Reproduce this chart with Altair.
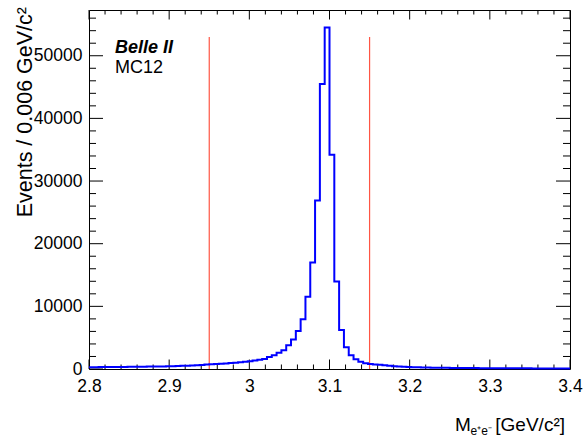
import altair as alt
import pandas as pd

# ---- data ----
x_min = 2.8
x_max = 3.4
bin_width = 0.006
counts = [
    290, 295, 300, 305, 310, 318, 325, 332, 340, 350,
    360, 370, 380, 390, 400, 412, 425, 445, 470, 500,
    535, 570, 610, 650, 700, 750, 790, 840, 890, 950,
    1010, 1080, 1160, 1250, 1350, 1460, 1590, 1900, 2200, 2580,
    3000, 3780, 4720, 6050, 7940, 11550, 16980, 26900, 45500, 54500,
    34200, 13950, 6230, 3470, 2180, 1550, 1170, 900, 800, 730,
    680, 600, 520, 450, 390, 340, 300, 280, 260, 245,
    230, 215, 200, 190, 180, 170, 160, 155, 150, 145,
    140, 135, 130, 125, 120, 115, 112, 110, 107, 105,
    102, 100, 98, 96, 94, 92, 90, 88, 86, 85,
]
cut_positions = [2.95, 3.15]
cut_top = [53000, 53000]
y_max = 57300

x_major = [2.8, 2.9, 3.0, 3.1, 3.2, 3.3, 3.4]
x_minor = [round(2.8 + 0.02 * i, 2) for i in range(31) if i % 5 != 0]
y_major = [0, 10000, 20000, 30000, 40000, 50000]
y_minor = [2000 * i for i in range(29) if i % 5 != 0]

W, H = 481, 359
FONT = "Liberation Sans"

edges = [round(x_min + bin_width * i, 4) for i in range(len(counts))]
hist = pd.DataFrame({"x": edges + [x_max], "n": counts + [counts[-1]]})

xs = alt.Scale(domain=[x_min, x_max], nice=False, zero=False)
ys = alt.Scale(domain=[0, y_max], nice=False)

hist_line = alt.Chart(hist).mark_line(
    interpolate="step-after", color="#0000ff", strokeWidth=2
).encode(
    x=alt.X("x:Q", scale=xs, axis=alt.Axis(
        values=x_major, format="~g", ticks=False, tickSize=0, domain=False,
        grid=False, labelFont=FONT, labelFontSize=17.5, labelColor="black",
        labelPadding=8, title=None, labelFlush=False)),
    y=alt.Y("n:Q", scale=ys, axis=alt.Axis(
        values=y_major, format="d", ticks=False, tickSize=0, domain=False,
        grid=False, labelFont=FONT, labelFontSize=17.5, labelColor="black",
        labelPadding=7, title=None)),
)

cuts = alt.Chart(pd.DataFrame({"x": cut_positions, "top": cut_top})).mark_rule(
    color="#ff5544", strokeWidth=1.2
).encode(x=alt.X("x:Q", scale=xs), y=alt.Y("top:Q", scale=ys), y2=alt.value(H))

def xticks(vals, length):
    d = pd.DataFrame({"x": vals})
    bot = alt.Chart(d).mark_rule(color="black", strokeWidth=1).encode(
        x=alt.X("x:Q", scale=xs), y=alt.value(H), y2=alt.value(H - length))
    top = alt.Chart(d).mark_rule(color="black", strokeWidth=1).encode(
        x=alt.X("x:Q", scale=xs), y=alt.value(0), y2=alt.value(length))
    return [bot, top]

def yticks(vals, length):
    d = pd.DataFrame({"y": vals})
    left = alt.Chart(d).mark_rule(color="black", strokeWidth=1).encode(
        y=alt.Y("y:Q", scale=ys), x=alt.value(0), x2=alt.value(length))
    right = alt.Chart(d).mark_rule(color="black", strokeWidth=1).encode(
        y=alt.Y("y:Q", scale=ys), x=alt.value(W), x2=alt.value(W - length))
    return [left, right]

tick_layers = xticks(x_major, 9.5) + xticks(x_minor, 4.5) + yticks(y_major, 14) + yticks(y_minor, 7)

def label(text, x, y, size, align="left", angle=0, weight="normal", style="normal", baseline="alphabetic"):
    kw = dict(align=align, baseline=baseline, font=FONT, fontSize=size,
              fontWeight=weight, fontStyle=style, color="black")
    if angle:
        kw["angle"] = angle
    return alt.Chart(pd.DataFrame({"t": [text]})).mark_text(**kw).encode(
        text="t:N", x=alt.value(x), y=alt.value(y))

texts = [
    label("Belle II", 26, 43.3, 18, weight="bold", style="italic"),
    label("MC12", 26, 62.7, 18),
    label("M", 366, 420.5, 19),
    label("e\u207ae\u207b", 381.5, 425, 12),
    label("[GeV/c\u00b2]", 476, 420.5, 19, align="right"),
    label("Events / 0.006 GeV/c\u00b2", -57.5, -3, 21.5, align="right", angle=270),
]

chart = alt.layer(*tick_layers, cuts, hist_line, *texts).properties(
    width=W, height=H,
    padding={"left": 89, "top": 10, "right": 18, "bottom": 74},
    autosize=alt.AutoSizeParams(type="none"),
    background="white",
).configure_view(stroke="black", strokeWidth=1)

chart.save("out.html", embed_options={"renderer": "svg", "actions": False})
